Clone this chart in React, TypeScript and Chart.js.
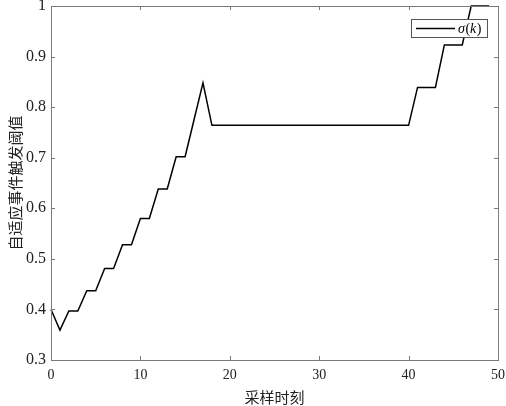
import React, { useEffect, useRef } from "react";
import { Chart, registerables } from "chart.js";

Chart.register(...registerables);

// sampling instants k
const samples = [
  0, 1, 2, 3, 4, 5, 6, 7, 8, 9,
  10, 11, 12, 13, 14, 15, 16, 17, 18, 19,
  20, 21, 22, 23, 24, 25, 26, 27, 28, 29,
  30, 31, 32, 33, 34, 35, 36, 37, 38, 39,
  40, 41, 42, 43, 44, 45, 46, 47, 48, 49,
];

// adaptive event-trigger threshold sigma(k)
const sigma = [
  0.400, 0.359, 0.397, 0.397, 0.437, 0.437, 0.481, 0.481, 0.528, 0.528,
  0.580, 0.580, 0.638, 0.638, 0.702, 0.702, 0.775, 0.848, 0.764, 0.764,
  0.764, 0.764, 0.764, 0.764, 0.764, 0.764, 0.764, 0.764, 0.764, 0.764,
  0.764, 0.764, 0.764, 0.764, 0.764, 0.764, 0.764, 0.764, 0.764, 0.764,
  0.764, 0.839, 0.839, 0.839, 0.923, 0.923, 0.923, 1.000, 1.000, 1.000,
];

const xTicks = [0, 10, 20, 30, 40, 50];
const yTicks = [0.3, 0.4, 0.5, 0.6, 0.7, 0.8, 0.9, 1.0];

const xTitle = "采样时刻";
const yTitle = "自适应事件触发阈值";
const legendLabel = "σ(k)";

const SERIF = "'Liberation Serif', 'Times New Roman', 'Noto Sans CJK SC', serif";
const CJK = "'Noto Sans CJK SC', 'Liberation Serif', serif";
const AXIS_COLOR = "#7a7a7a";

const boxPlugin = {
  id: "matlabBox",
  afterDraw(chart: any) {
    const { ctx, chartArea, scales } = chart;
    const { left, right, top, bottom } = chartArea;
    ctx.save();
    ctx.strokeStyle = AXIS_COLOR;
    ctx.lineWidth = 1;
    ctx.strokeRect(Math.round(left) + 0.5, Math.round(top) + 0.5, Math.round(right - left), Math.round(bottom - top));
    const tl = 4;
    ctx.beginPath();
    xTicks.forEach((v) => {
      const px = Math.round(scales.x.getPixelForValue(v)) + 0.5;
      ctx.moveTo(px, bottom);
      ctx.lineTo(px, bottom - tl);
      ctx.moveTo(px, top);
      ctx.lineTo(px, top + tl);
    });
    yTicks.forEach((v) => {
      const py = Math.round(scales.y.getPixelForValue(v)) + 0.5;
      ctx.moveTo(left, py);
      ctx.lineTo(left + tl, py);
      ctx.moveTo(right, py);
      ctx.lineTo(right - tl, py);
    });
    ctx.stroke();

    // legend box (top-right, inside axes)
    const bx = right - 87;
    const by = top + 13;
    const bw = 76;
    const bh = 18;
    ctx.fillStyle = "#ffffff";
    ctx.fillRect(bx, by, bw, bh);
    ctx.strokeStyle = "#555555";
    ctx.lineWidth = 1;
    ctx.strokeRect(bx + 0.5, by + 0.5, bw, bh);
    ctx.strokeStyle = "#000000";
    ctx.lineWidth = 1.5;
    ctx.beginPath();
    ctx.moveTo(bx + 5, by + 9.5);
    ctx.lineTo(bx + 44, by + 9.5);
    ctx.stroke();
    ctx.fillStyle = "#000000";
    ctx.textBaseline = "middle";
    ctx.textAlign = "left";
    let tx = bx + 47;
    const ty = by + 10;
    const parts: [string, boolean][] = [["σ", true], ["(", false], ["k", true], [")", false]];
    parts.forEach(([t, it]) => {
      ctx.font = (it ? "italic " : "") + "14px " + SERIF;
      ctx.fillText(t, tx, ty);
      tx += ctx.measureText(t).width + (it ? 0.5 : 0);
    });
    ctx.restore();
  },
};

export default function App() {
  const canvasRef = useRef<HTMLCanvasElement | null>(null);

  useEffect(() => {
    const canvas = canvasRef.current;
    if (!canvas) return;
    const chart = new Chart(canvas, {
      type: "line",
      data: {
        datasets: [
          {
            label: legendLabel,
            data: samples.map((k, i) => ({ x: k, y: sigma[i] })),
            borderColor: "#000000",
            borderWidth: 1.5,
            pointRadius: 0,
            tension: 0,
            fill: false,
            clip: 4,
          },
        ],
      },
      options: {
        animation: false,
        responsive: false,
        devicePixelRatio: 1,
        layout: { padding: { left: 0, right: 8, top: 6, bottom: 0 } },
        plugins: {
          legend: { display: false },
          tooltip: { enabled: false },
        },
        scales: {
          x: {
            type: "linear",
            min: 0,
            max: 50,
            afterFit: (s: any) => {
              s.height = 46;
              s.paddingLeft = 0;
              s.paddingRight = 0;
            },
            afterBuildTicks: (s: any) => {
              s.ticks = xTicks.map((v) => ({ value: v }));
            },
            grid: { display: false, drawTicks: false },
            border: { display: false },
            ticks: {
              padding: 7,
              color: "#222222",
              font: { family: SERIF, size: 14 },
              maxRotation: 0,
              callback: (v: any) => String(v),
            },
            title: {
              display: true,
              text: xTitle,
              color: "#222222",
              font: { family: CJK, size: 15 },
              padding: { top: 0, bottom: 0 },
            },
          },
          y: {
            type: "linear",
            min: 0.3,
            max: 1,
            afterFit: (s: any) => {
              s.width = 51;
              s.paddingTop = 0;
              s.paddingBottom = 0;
            },
            afterBuildTicks: (s: any) => {
              s.ticks = yTicks.map((v) => ({ value: v }));
            },
            grid: { display: false, drawTicks: false },
            border: { display: false },
            ticks: {
              padding: 5,
              color: "#222222",
              font: { family: SERIF, size: 16 },
              callback: (v: any) => String(Number(Number(v).toFixed(1))),
            },
            title: {
              display: true,
              text: yTitle,
              color: "#222222",
              font: { family: CJK, size: 15 },
              padding: { top: 6, bottom: 0 },
            },
          },
        },
      },
      plugins: [boxPlugin],
    });
    return () => chart.destroy();
  }, []);

  return (
    <div style={{ position: "absolute", left: 0, top: 0, width: 506, height: 406, background: "#ffffff" }}>
      <canvas ref={canvasRef} width={506} height={406} style={{ width: 506, height: 406 }} />
    </div>
  );
}
